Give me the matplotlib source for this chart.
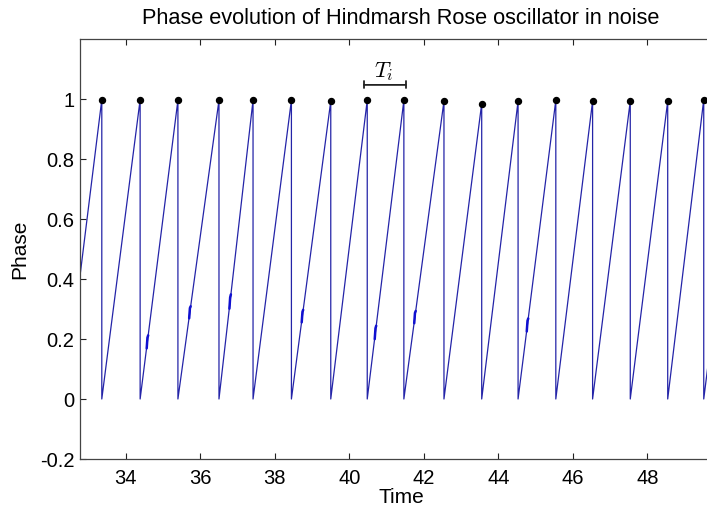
import numpy as np
import matplotlib
matplotlib.use("Agg")
import matplotlib.pyplot as plt

plt.rcParams['font.family'] = ['Liberation Sans', 'DejaVu Sans']
plt.rcParams['mathtext.fontset'] = 'cm'

# ---- data ----
spike_times = [33.355, 34.384, 35.398, 36.50, 37.414, 38.444, 39.50, 40.479,
               41.462, 42.538, 43.551, 44.527, 45.54, 46.527, 47.538, 48.543,
               49.51]
spike_phase = [0.998, 0.998, 0.996, 0.996, 0.996, 0.996, 0.993, 0.996,
               0.996, 0.993, 0.985, 0.993, 0.996, 0.993, 0.993, 0.993, 0.998]
start_time, start_phase = 32.77, 0.41
next_spike_time = 50.52
# small noise glitches on some ramps (times)
glitch_times = [35.72, 36.80, 38.74, 41.76, 34.58, 44.78, 40.70]

xticks = [34, 36, 38, 40, 42, 44, 46, 48]
yticks = [-0.2, 0, 0.2, 0.4, 0.6, 0.8, 1.0]
ytick_labels = ['-0.2', '0', '0.2', '0.4', '0.6', '0.8', '1']

# ---- build the phase trace from the spike times ----
xs = [start_time]
ys = [start_phase]
for t, p in zip(spike_times, spike_phase):
    xs += [t, t]
    ys += [p, 0.0]
xs.append(next_spike_time)
ys.append(1.0)
xs = np.array(xs)
ys = np.array(ys)

fig = plt.figure(figsize=(7.07, 5.11), dpi=100)
ax = fig.add_axes([80/707, 1-459/511, (722-80)/707, (459-39)/511])

ax.plot(xs, ys, color='#2424a8', lw=0.9, zorder=2)
# glitches: tiny thickened jitter on the ramps
for gt in glitch_times:
    gx = np.array([gt - 0.02, gt, gt + 0.02])
    gy = np.interp(gx, xs[1:], ys[1:]) + np.array([-0.004, 0.012, 0.0])
    ax.plot(gx, gy, color='#1010d0', lw=1.8, zorder=2, solid_capstyle='round')
ax.plot(spike_times, spike_phase, 'o', color='black', ms=4.3, zorder=3)

# T_i bracket
ax.annotate('', xy=(40.39, 1.047), xytext=(41.51, 1.047),
            arrowprops=dict(arrowstyle='|-|, widthA=0.25, widthB=0.25',
                            color='#222222', lw=1.3, shrinkA=0, shrinkB=0))
ax.text(40.93, 1.09, r'$T_i$', ha='center', va='center', fontsize=16)

ax.set_xlim(32.77, 50.0)
ax.set_ylim(-0.2, 1.2)
ax.set_xticks(xticks)
ax.set_xticklabels([str(v) for v in xticks])
ax.set_yticks(yticks)
ax.set_yticklabels(ytick_labels)
ax.tick_params(direction='in', length=4.5, width=0.8, labelsize=14.5,
               top=True, right=True, colors='#222222', labelcolor='black')
ax.tick_params(axis='x', pad=7)
ax.tick_params(axis='y', pad=4)
for s in ax.spines.values():
    s.set_color('#444444')
    s.set_linewidth(0.9)

ax.set_title('Phase evolution of Hindmarsh Rose oscillator in noise',
             fontsize=15.7, pad=11)
ax.set_xlabel('Time', fontsize=15, labelpad=0)
ax.set_ylabel('Phase', fontsize=15, labelpad=8)

fig.savefig('out.png', dpi=100)
